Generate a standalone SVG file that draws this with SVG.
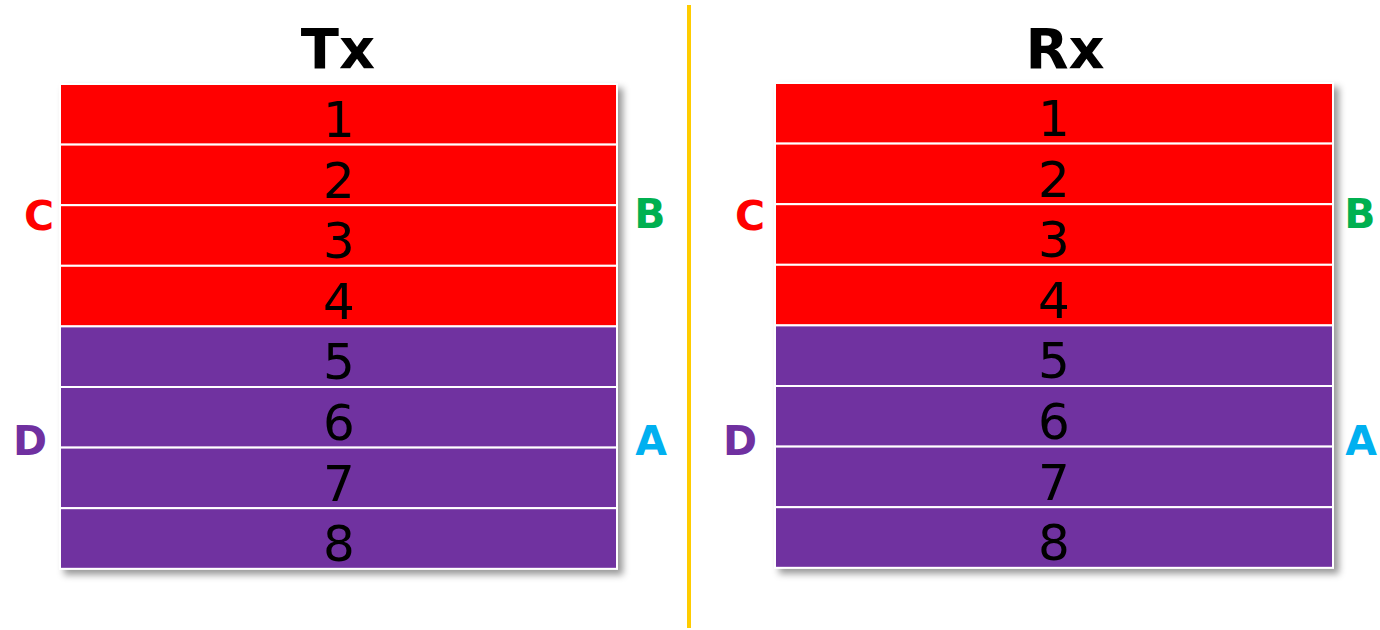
<svg xmlns="http://www.w3.org/2000/svg" width="1380" height="630" viewBox="0 0 1380 630">
<defs>
<filter id="sh" x="-5%" y="-5%" width="115%" height="115%">
<feDropShadow dx="5" dy="5" stdDeviation="3.5" flood-color="#000" flood-opacity="0.4"/>
</filter>
</defs>
<style>
.r{fill:#FF0000;stroke:#fff;stroke-width:2}
.p{fill:#7030A0;stroke:#fff;stroke-width:2}
.n{font-family:"DejaVu Sans",sans-serif;font-size:50px;fill:#000;text-anchor:middle}
.t{font-family:"DejaVu Sans",sans-serif;font-weight:bold;font-size:56px;fill:#000;text-anchor:middle}
.l{font-family:"DejaVu Sans",sans-serif;font-weight:bold;font-size:41px;text-anchor:middle}
</style>
<rect width="1380" height="630" fill="#fff"/>
<line x1="689" y1="5" x2="689" y2="628" stroke="#FFCC00" stroke-width="4"/>
<g id="tx">
<text class="t" x="338" y="68">Tx</text>
<g filter="url(#sh)">
<rect x="60" y="84" width="557" height="485" fill="#fff"/>
<rect class="r" x="60" y="84" width="557" height="60.6"/>
<rect class="r" x="60" y="144.6" width="557" height="60.6"/>
<rect class="r" x="60" y="205.2" width="557" height="60.6"/>
<rect class="r" x="60" y="265.8" width="557" height="60.6"/>
<rect class="p" x="60" y="326.4" width="557" height="60.6"/>
<rect class="p" x="60" y="387" width="557" height="60.6"/>
<rect class="p" x="60" y="447.6" width="557" height="60.6"/>
<rect class="p" x="60" y="508.2" width="557" height="60.6"/>
</g>
<text class="n" x="339" y="137">1</text>
<text class="n" x="339" y="197.6">2</text>
<text class="n" x="339" y="258.2">3</text>
<text class="n" x="339" y="318.8">4</text>
<text class="n" x="339" y="379.4">5</text>
<text class="n" x="339" y="440">6</text>
<text class="n" x="339" y="500.6">7</text>
<text class="n" x="339" y="561.2">8</text>
<text class="l" x="39" y="230" fill="#FF0000">C</text>
<text class="l" x="650" y="228" fill="#00B050">B</text>
<text class="l" x="30" y="455" fill="#7030A0">D</text>
<text class="l" x="651" y="455" fill="#00B0F0">A</text>
</g>
<g id="rx">
<text class="t" x="1065" y="68">Rx</text>
<g filter="url(#sh)">
<rect x="775" y="83" width="558" height="485" fill="#fff"/>
<rect class="r" x="775" y="83" width="558" height="60.6"/>
<rect class="r" x="775" y="143.6" width="558" height="60.6"/>
<rect class="r" x="775" y="204.2" width="558" height="60.6"/>
<rect class="r" x="775" y="264.8" width="558" height="60.6"/>
<rect class="p" x="775" y="325.4" width="558" height="60.6"/>
<rect class="p" x="775" y="386" width="558" height="60.6"/>
<rect class="p" x="775" y="446.6" width="558" height="60.6"/>
<rect class="p" x="775" y="507.2" width="558" height="60.6"/>
</g>
<text class="n" x="1054" y="136">1</text>
<text class="n" x="1054" y="196.6">2</text>
<text class="n" x="1054" y="257.2">3</text>
<text class="n" x="1054" y="317.8">4</text>
<text class="n" x="1054" y="378.4">5</text>
<text class="n" x="1054" y="439">6</text>
<text class="n" x="1054" y="499.6">7</text>
<text class="n" x="1054" y="560.2">8</text>
<text class="l" x="750" y="230" fill="#FF0000">C</text>
<text class="l" x="1360" y="228" fill="#00B050">B</text>
<text class="l" x="740" y="455" fill="#7030A0">D</text>
<text class="l" x="1361" y="455" fill="#00B0F0">A</text>
</g>
<g id="connectors"/>
</svg>
